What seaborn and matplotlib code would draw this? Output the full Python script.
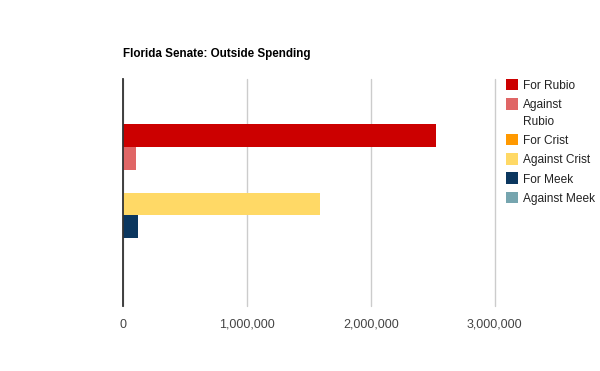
import matplotlib
matplotlib.use('Agg')
import matplotlib.pyplot as plt
import matplotlib.ticker as mticker
from matplotlib.patches import Rectangle
import pandas as pd
import seaborn as sns

# --- Data ---
race = ['Florida Senate']
series = ['For Rubio', 'Against Rubio', 'For Crist', 'Against Crist', 'For Meek', 'Against Meek']
legend_labels = ['For Rubio', 'Against\nRubio', 'For Crist', 'Against Crist', 'For Meek', 'Against Meek']
spending = [2530000, 102000, 0, 1586000, 119000, 0]
colors = ['#cc0000', '#e06666', '#ff9900', '#ffd966', '#0b375f', '#76a5af']
x_ticks = [0, 1000000, 2000000, 3000000]

df = pd.DataFrame({'race': race * len(series), 'series': series, 'value': spending})

sns.set_style('white')
plt.rcParams['font.family'] = ['Liberation Sans', 'DejaVu Sans']

W, H = 600, 371
fig = plt.figure(figsize=(6, 3.71), dpi=100)
ax = fig.add_axes([123 / W, 1 - 306 / H, (494.7 - 123) / W, (306 - 79) / H])

sns.barplot(data=df, x='value', y='race', hue='series', hue_order=series,
            palette=colors, saturation=1, width=0.603, orient='h',
            linewidth=0, legend=False, ax=ax)

ax.set_xlim(0, 3000000)
ax.set_ylim(0.5, -0.5)
ax.set_xticks(x_ticks)
ax.xaxis.set_major_formatter(mticker.FuncFormatter(lambda v, p: f'{int(v):,}'))
ax.set_yticks([])
ax.set_xlabel('')
ax.set_ylabel('')
ax.tick_params(axis='x', length=0, pad=9, labelsize=9, labelcolor='#444444')

ax.grid(axis='x', color='#cccccc', linewidth=1)
ax.set_axisbelow(True)
for gl in ax.get_xgridlines():
    gl.set_clip_on(False)
for side in ['top', 'right', 'bottom']:
    ax.spines[side].set_visible(False)
ax.spines['left'].set_color('#333333')
ax.spines['left'].set_linewidth(1.3)
ax.spines['left'].set_zorder(5)

fig.text(123 / W, 1 - 54 / H, 'Florida Senate: Outside Spending',
         fontsize=8.4, fontweight='bold', va='center', ha='left', color='black')

# legend drawn by hand so the wrapped label keeps its square on the first line
y = 84.5
for lab, col in zip(legend_labels, colors):
    fig.patches.append(Rectangle((506 / W, 1 - (y + 5.7) / H), 11.5 / W, 11.5 / H,
                                 transform=fig.transFigure, facecolor=col,
                                 edgecolor='none'))
    for i, line in enumerate(lab.split('\n')):
        fig.text(523 / W, 1 - (y + 4.3 + 16.5 * i) / H, line, fontsize=8.6,
                 va='baseline', ha='left', color='#222222')
    y += 19.3 + 16.5 * lab.count('\n')

fig.savefig('out.png', dpi=100)
